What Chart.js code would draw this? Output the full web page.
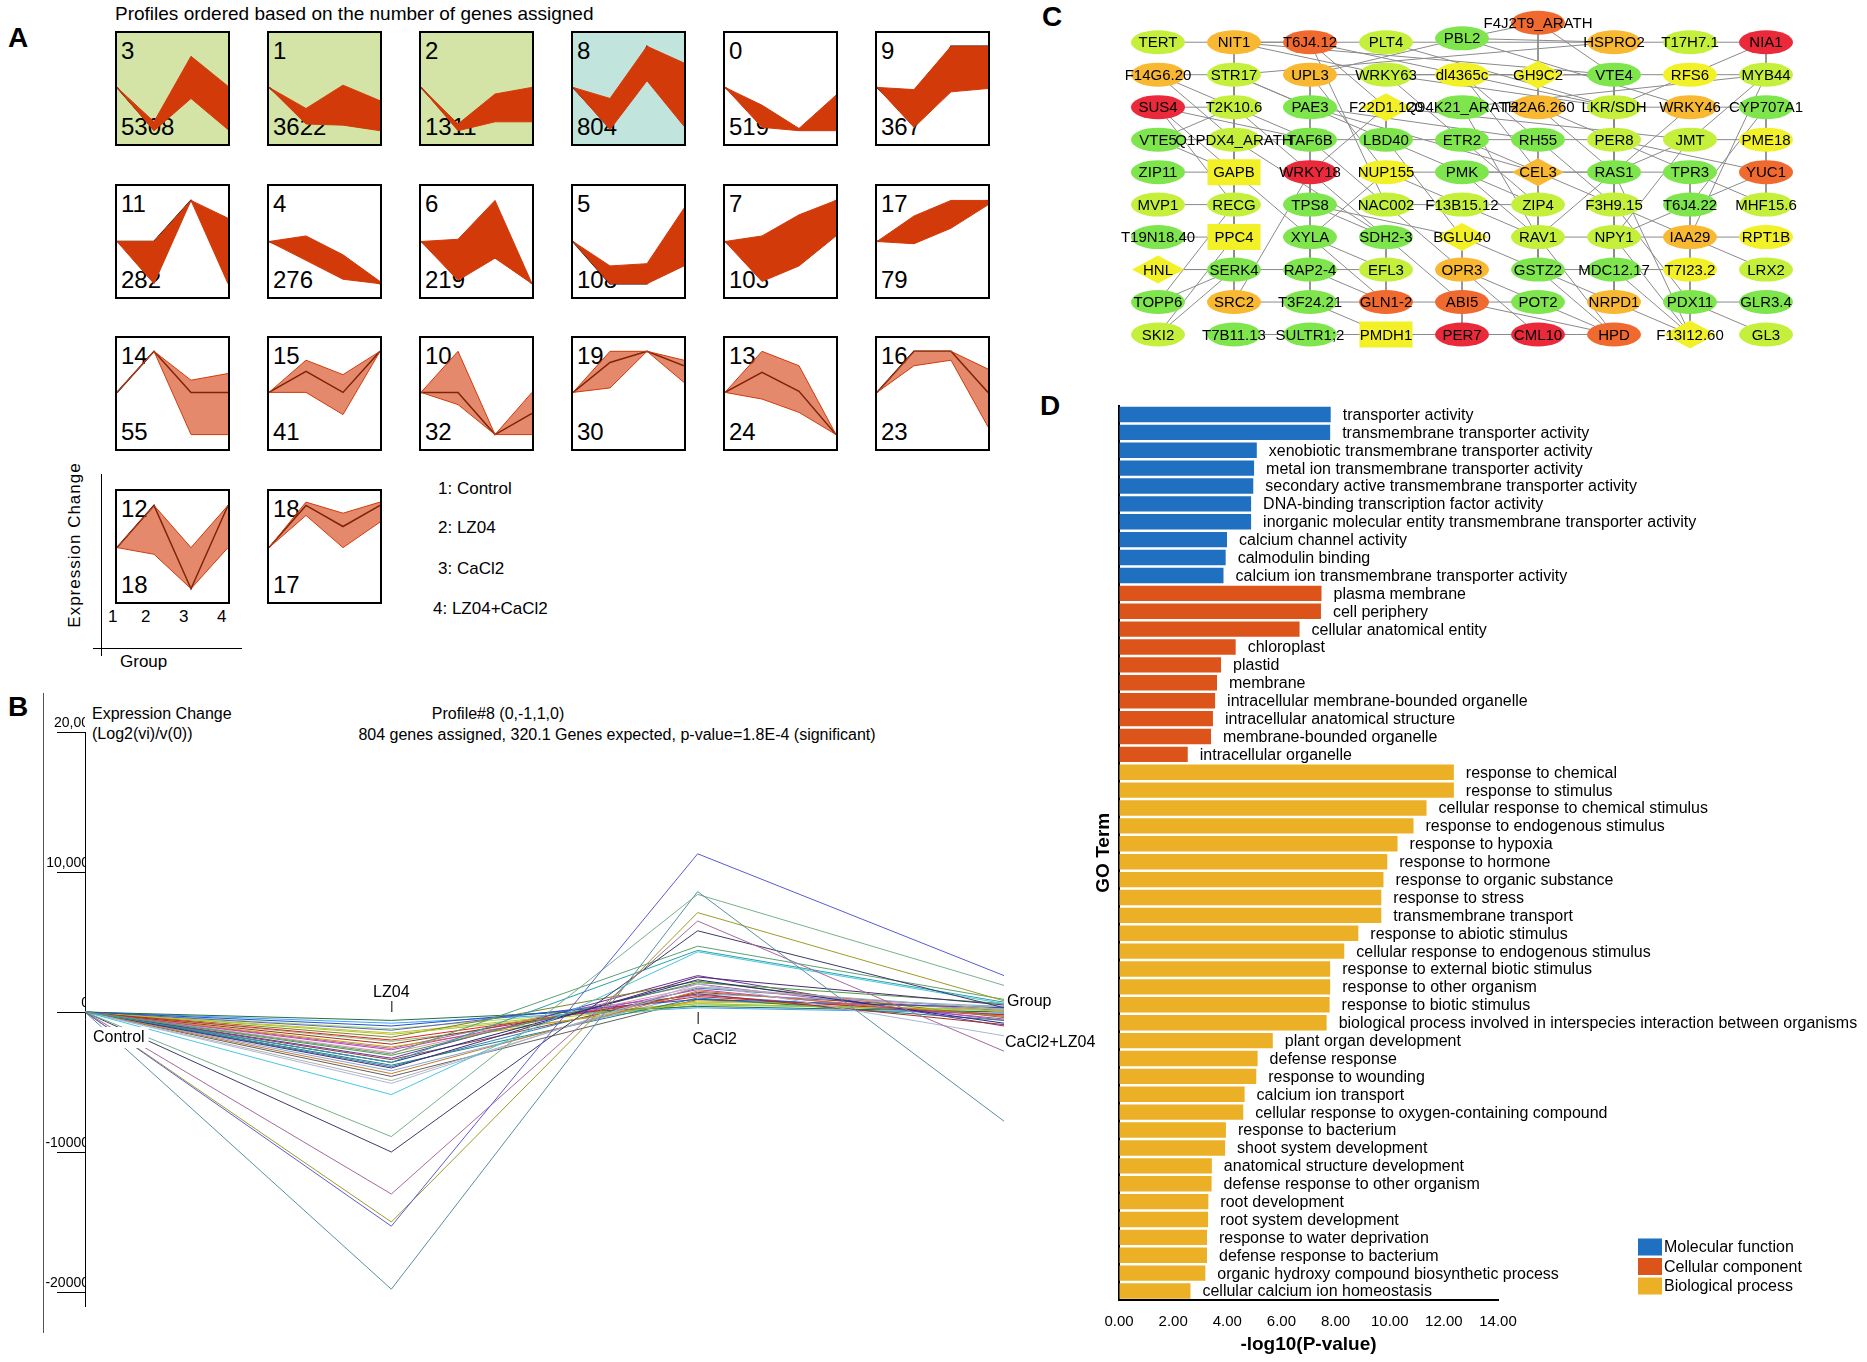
<!DOCTYPE html>
<html>
<head>
<meta charset="utf-8">
<title>Expression profiles, interaction network and GO enrichment</title>
<script src="https://cdn.jsdelivr.net/npm/chart.js@4.4.1/dist/chart.umd.min.js"></script>
<style>
  body { margin:0; width:1867px; height:1362px; position:relative; overflow:hidden; background:#fff;
         font-family:"Liberation Sans", Arial, sans-serif; color:#000; }
  .t { position:absolute; white-space:nowrap; line-height:1; }
  .letter { position:absolute; font-weight:bold; font-size:28px; line-height:1; }
  .box { position:absolute; width:115px; height:115px; border:2px solid #000; box-sizing:border-box; background:#fff; }
  .box canvas { position:absolute; left:0; top:0; }
  .num { position:absolute; left:4px; font-size:24px; line-height:1; }
  .abs { position:absolute; }
</style>
</head>
<body>

<div class="letter" style="left:8px;top:24px">A</div>
<div class="letter" style="left:8px;top:693px">B</div>
<div class="letter" style="left:1042px;top:3px">C</div>
<div class="letter" style="left:1040px;top:392px">D</div>

<div class="t" style="left:115px;top:4px;font-size:19px">Profiles ordered based on the number of genes assigned</div>

<!-- A: small axis key -->
<div class="abs" style="left:101px;top:474px;width:1px;height:182px;background:#000"></div>
<div class="abs" style="left:93px;top:648px;width:149px;height:1px;background:#000"></div>
<div class="t" style="left:74px;top:545px;font-size:17px;letter-spacing:1px;transform:translate(-50%,-50%) rotate(-90deg)">Expression Change</div>
<div class="t" style="left:108px;top:608px;font-size:17px">1</div>
<div class="t" style="left:141px;top:608px;font-size:17px">2</div>
<div class="t" style="left:179px;top:608px;font-size:17px">3</div>
<div class="t" style="left:217px;top:608px;font-size:17px">4</div>
<div class="t" style="left:120px;top:653px;font-size:17px">Group</div>
<div id="groupKey"></div>

<!-- B: frame line and titles -->
<div class="abs" style="left:43px;top:693px;width:1px;height:640px;background:#555"></div>
<div class="t" style="left:92px;top:706px;font-size:16px">Expression Change</div>
<div class="t" style="left:92px;top:726px;font-size:16px">(Log2(vi)/v(0))</div>
<div class="t" style="left:498px;top:706px;font-size:16px;transform:translateX(-50%)">Profile#8 (0,-1,1,0)</div>
<div class="t" style="left:617px;top:727px;font-size:16px;transform:translateX(-50%)">804 genes assigned, 320.1 Genes expected, p-value=1.8E-4 (significant)</div>

<canvas id="chartB" class="abs" width="1110" height="672" style="left:0;top:690px"></canvas>
<canvas id="chartC" class="abs" width="684" height="354" style="left:1120px;top:0"></canvas>
<canvas id="chartD" class="abs" width="787" height="977" style="left:1080px;top:385px"></canvas>

<script>
// ---------------- A: STEM profiles (0..100 inside a box, 100 = top) ----------------
const profileIds   = [3, 1, 2, 8, 0, 9, 11, 4, 6, 5, 7, 17, 14, 15, 10, 19, 13, 16, 12, 18];
const profileGenes = [5308, 3622, 1311, 804, 519, 367, 282, 276, 219, 108, 103, 79, 55, 41, 32, 30, 24, 23, 18, 17];
const profileMean = [
  [51, 13, 50, 32], [51, 23, 32, 13], [51, 15, 32, 32], [51, 15, 88, 50], [51, 26, 13, 26], [51, 20, 88, 88],
  [50, 50, 87, 50], [50, 37, 25, 12], [50, 30, 50, 12], [50, 12, 12, 50], [50, 30, 57, 87], [50, 62, 75, 87],
  [51, 88, 51, 51], [51, 70, 51, 88], [51, 51, 13, 32], [51, 78, 88, 75], [51, 69, 52, 13], [51, 88, 88, 51],
  [49, 87, 12, 87], [49, 87, 68, 87]
];
const profileHigh = [
  [51, 20, 79, 52], [51, 32, 53, 39], [51, 18, 45, 51], [51, 41, 88, 73], [51, 35, 14, 44], [51, 49, 88, 88],
  [50, 50, 87, 71], [50, 55, 38, 14], [50, 52, 87, 12], [50, 28, 30, 80], [50, 55, 74, 87], [50, 73, 87, 87],
  [51, 88, 62, 68], [51, 80, 67, 88], [51, 88, 13, 51], [51, 88, 88, 80], [51, 88, 75, 13], [51, 88, 88, 72],
  [49, 87, 49, 87], [49, 90, 80, 90]
];
const profileLow = [
  [51, 12, 41, 13], [51, 18, 17, 12], [51, 12, 20, 20], [51, 13, 57, 16], [51, 15, 12, 12], [51, 15, 47, 50],
  [50, 12, 87, 12], [50, 33, 16, 12], [50, 15, 35, 12], [50, 12, 12, 28], [50, 14, 28, 55], [50, 48, 62, 83],
  [51, 88, 13, 13], [51, 51, 31, 88], [51, 40, 13, 13], [51, 55, 88, 60], [51, 45, 33, 13], [51, 75, 80, 20],
  [49, 43, 12, 49], [49, 78, 49, 72]
];
const groupNames = ['1: Control', '2: LZ04', '3: CaCl2', '4: LZ04+CaCl2'];

// ---------------- B: genes of profile 8 ----------------
const bGroups = ['Control', 'LZ04', 'CaCl2', 'CaCl2+LZ04'];
const bTicks = [-20000, -10000, 0, 10000, 20000];
const bTickLabels = ['-20000', '-10000', '0', '10,000', '20,00'];
const bSeries = [
  [0, -15300, 11300, 2600], [0, -19800, 8600, -7800], [0, -8900, 8400, 1900], [0, -15000, 7100, 800],
  [0, -13000, 6500, -2800], [0, -10000, 5800, 300], [0, -3000, 4700, 900], [0, -3600, 4400, 700],
  [0, -5900, 4300, 600], [0, -5100, 2000, -1700], [0, -4900, 1800, 200], [0, -4400, 1500, -300],
  [0, -4000, 2500, 500], [0, -3600, 2300, -800], [0, -3100, 2100, 600], [0, -2700, 1600, -500],
  [0, -2300, 1300, -900], [0, -1000, 900, 300], [0, -1600, 600, 100], [0, -2000, 1100, -200],
  [0, -2900, 1800, 0], [0, -1800, 2200, -400], [0, -600, 400, 0], [0, -3300, 2600, -1000],
  [0, -4200, 1300, 400], [0, -3800, 1000, -600], [0, -2500, 800, 300], [0, -1300, 1200, -300],
  [0, -2100, 500, 200], [0, -3400, 1400, 100], [0, -800, 300, -100], [0, -1500, 700, 400],
  [0, -2600, 2000, -600], [0, -4600, 900, -200], [0, -3900, 1700, 200], [0, -1200, 600, 0]
];
const bColors = [
  '#5a5ad6', '#5a8fa0', '#78b08a', '#a09a28', '#a8699a', '#3e3a6a', '#5aa070', '#2aa0a8',
  '#48c8e0', '#a8b8d8', '#b0b0b0', '#c87a30', '#4a2a70', '#1e2a80', '#4a9a40', '#c040b0',
  '#a03020', '#2050d0', '#a8c820', '#e02020', '#e890b0', '#808020', '#207040', '#7030a0',
  '#80a8e0', '#208080', '#d0a000', '#6060c0', '#80c080', '#904040', '#40a0ff', '#c0c040',
  '#a060c0', '#606060', '#3080b0', '#a0e060'
];

// ---------------- C: interaction network ----------------
const nodeRows = [
  ['TERT', 'NIT1', 'T6J4.12', 'PLT4', 'PBL2', 'F4J2T9_ARATH', 'HSPRO2', 'T17H7.1', 'NIA1'],
  ['F14G6.20', 'STR17', 'UPL3', 'WRKY63', 'dl4365c', 'GH9C2', 'VTE4', 'RFS6', 'MYB44'],
  ['SUS4', 'T2K10.6', 'PAE3', 'F22D1.120', 'Q94K21_ARATH', 'T22A6.260', 'LKR/SDH', 'WRKY46', 'CYP707A1'],
  ['VTE5', 'Q1PDX4_ARATH', 'TAF6B', 'LBD40', 'ETR2', 'RH55', 'PER8', 'JMT', 'PME18'],
  ['ZIP11', 'GAPB', 'WRKY18', 'NUP155', 'PMK', 'CEL3', 'RAS1', 'TPR3', 'YUC1'],
  ['MVP1', 'RECG', 'TPS8', 'NAC002', 'F13B15.12', 'ZIP4', 'F3H9.15', 'T6J4.22', 'MHF15.6'],
  ['T19N18.40', 'PPC4', 'XYLA', 'SDH2-3', 'BGLU40', 'RAV1', 'NPY1', 'IAA29', 'RPT1B'],
  ['HNL', 'SERK4', 'RAP2-4', 'EFL3', 'OPR3', 'GSTZ2', 'MDC12.17', 'T7I23.2', 'LRX2'],
  ['TOPP6', 'SRC2', 'T3F24.21', 'GLN1-2', 'ABI5', 'POT2', 'NRPD1', 'PDX11', 'GLR3.4'],
  ['SKI2', 'T7B11.13', 'SULTR1;2', 'PMDH1', 'PER7', 'CML10', 'HPD', 'F13I12.60', 'GL3']
];
const nodeLevels = [
  'yg oy o yg g o oy yg r',
  'oy yg oy yg y y g y yg',
  'r yg g y g oy yg oy g',
  'g yg g g g g yg yg y',
  'g y r y g oy g g o',
  'yg yg g yg yg yg yg g yg',
  'g y g g y yg yg oy y',
  'y g g yg oy g g y yg',
  'g oy g o o g oy g g',
  'yg g g y r r o y yg'
];
const diamondNodes = ['F22D1.120', 'GH9C2', 'CEL3', 'BGLU40', 'HNL', 'F13I12.60'];
const rectNodes = ['GAPB', 'PPC4', 'PMDH1'];
const edges = [
  ['TERT','NIT1'],['NIT1','T6J4.12'],['F14G6.20','STR17'],['ZIP11','GAPB'],['HNL','SERK4'],['HNL','EFL3'],
  ['T7B11.13','SULTR1;2'],['SULTR1;2','PMDH1'],['PMDH1','PER7'],['PER7','CML10'],['CML10','HPD'],['IAA29','RPT1B'],
  ['NPY1','IAA29'],['RAV1','NPY1'],['T17H7.1','NIA1'],['HSPRO2','T17H7.1'],['MDC12.17','T7I23.2'],['GSTZ2','MDC12.17'],
  ['PDX11','GL3'],['IAA29','LRX2'],['SUS4','T2K10.6'],['SUS4','GAPB'],['SUS4','TAF6B'],['SUS4','RECG'],
  ['F14G6.20','T2K10.6'],['F14G6.20','Q1PDX4_ARATH'],['STR17','PAE3'],['STR17','RECG'],['STR17','LBD40'],
  ['T2K10.6','TAF6B'],['T2K10.6','SDH2-3'],['NIT1','GAPB'],['NIT1','VTE4'],['NIT1','HSPRO2'],['NIT1','WRKY63'],
  ['T6J4.12','F22D1.120'],['T6J4.12','NAC002'],['T6J4.12','LKR/SDH'],['UPL3','TPS8'],['UPL3','NUP155'],['UPL3','PBL2'],
  ['PAE3','RH55'],['PAE3','CEL3'],['WRKY63','ETR2'],['WRKY63','RFS6'],['dl4365c','VTE4'],['dl4365c','CEL3'],
  ['dl4365c','F3H9.15'],['F22D1.120','LBD40'],['F22D1.120','JMT'],['Q94K21_ARATH','MYB44'],['Q94K21_ARATH','RAV1'],
  ['T22A6.260','PER8'],['T22A6.260','RAS1'],['LKR/SDH','WRKY46'],['LKR/SDH','F3H9.15'],['WRKY46','CYP707A1'],
  ['WRKY46','RAV1'],['CYP707A1','T6J4.22'],['CYP707A1','MHF15.6'],['MYB44','RFS6'],['MYB44','JMT'],['MYB44','IAA29'],
  ['NIA1','MYB44'],['NIA1','RFS6'],['F4J2T9_ARATH','VTE4'],['F4J2T9_ARATH','GH9C2'],['F4J2T9_ARATH','PBL2'],
  ['GH9C2','T22A6.260'],['VTE4','RAS1'],['VTE4','NRPD1'],['RFS6','LKR/SDH'],['RH55','RAV1'],['PER8','TPR3'],
  ['PER8','YUC1'],['JMT','RAS1'],['JMT','NPY1'],['JMT','PME18'],['TPR3','MHF15.6'],['TPR3','F13I12.60'],
  ['YUC1','T6J4.22'],['RAS1','F13I12.60'],['F3H9.15','IAA29'],['F3H9.15','NRPD1'],['T6J4.22','NPY1'],['RAV1','GSTZ2'],
  ['RAV1','HPD'],['NPY1','F13I12.60'],['GSTZ2','HPD'],['GSTZ2','NRPD1'],['MDC12.17','F13I12.60'],['POT2','HPD'],
  ['NRPD1','F13I12.60'],['PDX11','F3H9.15'],['GLR3.4','PDX11'],['TAF6B','NAC002'],['TAF6B','ETR2'],['LBD40','PMK'],
  ['LBD40','BGLU40'],['ETR2','CEL3'],['ETR2','ZIP4'],['GAPB','XYLA'],['GAPB','PPC4'],['GAPB','SERK4'],['WRKY18','TPS8'],
  ['WRKY18','F22D1.120'],['WRKY18','SRC2'],['NUP155','F13B15.12'],['NUP155','XYLA'],['PMK','RAV1'],['PMK','ZIP4'],
  ['CEL3','F3H9.15'],['RECG','TOPP6'],['RECG','PPC4'],['TPS8','SDH2-3'],['TPS8','RAP2-4'],['NAC002','OPR3'],
  ['NAC002','ZIP4'],['F13B15.12','RAV1'],['ZIP4','GSTZ2'],['T19N18.40','PPC4'],['PPC4','SERK4'],['PPC4','SKI2'],
  ['XYLA','RAP2-4'],['XYLA','GLN1-2'],['SDH2-3','EFL3'],['SDH2-3','ABI5'],['BGLU40','OPR3'],['BGLU40','GSTZ2'],
  ['SERK4','SKI2'],['SERK4','SRC2'],['RAP2-4','T3F24.21'],['RAP2-4','GLN1-2'],['EFL3','GLN1-2'],['OPR3','ABI5'],
  ['OPR3','POT2'],['OPR3','CML10'],['SRC2','GLN1-2'],['T3F24.21','PMDH1'],['GLN1-2','ABI5'],['ABI5','PER7'],
  ['ABI5','HPD'],['ABI5','POT2'],['TOPP6','SERK4'],['MVP1','RECG'],['VTE5','GAPB'],['VTE5','T2K10.6'],['VTE5','TAF6B'],
  ['PBL2','WRKY46'],['PBL2','HSPRO2'],['STR17','HSPRO2'],['UPL3','VTE4'],['PLT4','LKR/SDH'],['ETR2','PER8'],
  ['NUP155','RAS1'],['PMK','TPR3'],['WRKY63','LKR/SDH'],['Q1PDX4_ARATH','SDH2-3'],['TPS8','BGLU40'],['XYLA','EFL3']
];

// ---------------- D: GO enrichment ----------------
const mfTerms = ['transporter activity', 'transmembrane transporter activity', 'xenobiotic transmembrane transporter activity',
  'metal ion transmembrane transporter activity', 'secondary active transmembrane transporter activity',
  'DNA-binding transcription factor activity', 'inorganic molecular entity transmembrane transporter activity',
  'calcium channel activity', 'calmodulin binding', 'calcium ion transmembrane transporter activity'];
const mfValues = [7.82, 7.80, 5.09, 4.99, 4.96, 4.88, 4.88, 3.99, 3.94, 3.86];
const ccTerms = ['plasma membrane', 'cell periphery', 'cellular anatomical entity', 'chloroplast', 'plastid', 'membrane',
  'intracellular membrane-bounded organelle', 'intracellular anatomical structure', 'membrane-bounded organelle',
  'intracellular organelle'];
const ccValues = [7.48, 7.46, 6.67, 4.31, 3.77, 3.62, 3.55, 3.47, 3.40, 2.54];
const bpTerms = ['response to chemical', 'response to stimulus', 'cellular response to chemical stimulus',
  'response to endogenous stimulus', 'response to hypoxia', 'response to hormone', 'response to organic substance',
  'response to stress', 'transmembrane transport', 'response to abiotic stimulus', 'cellular response to endogenous stimulus',
  'response to external biotic stimulus', 'response to other organism', 'response to biotic stimulus',
  'biological process involved in interspecies interaction between organisms', 'plant organ development',
  'defense response', 'response to wounding', 'calcium ion transport', 'cellular response to oxygen-containing compound',
  'response to bacterium', 'shoot system development', 'anatomical structure development',
  'defense response to other organism', 'root development', 'root system development', 'response to water deprivation',
  'defense response to bacterium', 'organic hydroxy compound biosynthetic process', 'cellular calcium ion homeostasis'];
const bpValues = [12.37, 12.37, 11.36, 10.88, 10.29, 9.91, 9.77, 9.69, 9.69, 8.84, 8.32, 7.80, 7.80, 7.78, 7.67, 5.68,
  5.12, 5.07, 4.64, 4.59, 3.95, 3.92, 3.43, 3.42, 3.30, 3.29, 3.25, 3.25, 3.19, 2.64];
const goGroups = ['Molecular function', 'Cellular component', 'Biological process'];

// ======================================================================
const FONT = '"Liberation Sans", Arial, sans-serif';
Chart.defaults.font.family = FONT;
Chart.defaults.color = '#000';
Chart.defaults.animation = false;
Chart.defaults.events = [];
Chart.defaults.plugins.legend.display = false;
Chart.defaults.plugins.tooltip.enabled = false;

// ---- A
const RED = 'rgb(210,58,10)';
profileIds.forEach((id, i) => {
  const box = document.createElement('div');
  box.className = 'box';
  box.style.left = (115 + (i % 6) * 152) + 'px';
  box.style.top = (31 + Math.floor(i / 6) * 152.5) + 'px';
  if (i < 3) box.style.background = '#d3e4a6';
  if (i === 3) box.style.background = '#c1e4dc';

  const top = document.createElement('div');
  top.className = 'num'; top.style.top = '6px'; top.textContent = id;
  const bottom = document.createElement('div');
  bottom.className = 'num'; bottom.style.bottom = '5px'; bottom.textContent = profileGenes[i];
  box.appendChild(top); box.appendChild(bottom);

  const cv = document.createElement('canvas');
  cv.width = 111; cv.height = 111;
  box.appendChild(cv);
  document.body.appendChild(box);

  // few genes: individual lines show through, so the band is lighter
  const sparse = profileGenes[i] < 60;
  new Chart(cv, {
    type: 'line',
    data: {
      labels: [1, 2, 3, 4],
      datasets: [
        { data: profileLow[i], borderColor: RED, borderWidth: 1, pointRadius: 0, fill: false },
        { data: profileHigh[i], borderColor: RED, borderWidth: 1, pointRadius: 0, fill: '-1',
          backgroundColor: sparse ? 'rgba(210,58,10,0.6)' : RED },
        { data: profileMean[i], borderColor: '#000', borderWidth: 1.5, pointRadius: 0, fill: false }
      ]
    },
    options: {
      responsive: false,
      scales: {
        x: { display: false, offset: false },
        y: { display: false, min: 0, max: 100 }
      }
    }
  });
});

const keyTops = [480, 519, 560, 600];
groupNames.forEach((g, i) => {
  const d = document.createElement('div');
  d.className = 't';
  d.style.left = (i === 3 ? 433 : 438) + 'px';
  d.style.top = keyTops[i] + 'px';
  d.style.fontSize = '17px';
  d.textContent = g;
  document.getElementById('groupKey').appendChild(d);
});

// ---- B
const bGroupLabels = {
  id: 'bGroupLabels',
  afterDraw(chart) {
    const { ctx, scales: { x, y } } = chart;
    const y0 = y.getPixelForValue(0);
    const xs = bGroups.map((g, i) => x.getPixelForValue(i));
    ctx.save();
    ctx.font = '16px ' + FONT;
    ctx.textBaseline = 'middle';
    ctx.strokeStyle = '#000';
    ctx.lineWidth = 1;
    const w = ctx.measureText(bGroups[0]).width;
    ctx.fillStyle = '#fff';
    ctx.fillRect(xs[0] + 6, y0 + 15, w + 6, 21);
    ctx.fillStyle = '#000';
    ctx.textAlign = 'left';
    ctx.fillText(bGroups[0], xs[0] + 8, y0 + 26);
    ctx.textAlign = 'center';
    ctx.fillText(bGroups[1], xs[1], y0 - 19);
    ctx.beginPath(); ctx.moveTo(xs[1] + 0.5, y0 - 11); ctx.lineTo(xs[1] + 0.5, y0); ctx.stroke();
    ctx.fillText(bGroups[2], xs[2] + 17, y0 + 28);
    ctx.beginPath(); ctx.moveTo(xs[2] + 0.5, y0); ctx.lineTo(xs[2] + 0.5, y0 + 12); ctx.stroke();
    ctx.textAlign = 'left';
    ctx.fillText('Group', xs[3] + 3, y0 - 10);
    ctx.fillText(bGroups[3], xs[3] + 1, y0 + 31);
    ctx.restore();
  }
};

new Chart(document.getElementById('chartB'), {
  type: 'line',
  data: {
    labels: bGroups,
    datasets: bSeries.map((s, i) => ({
      data: s, borderColor: bColors[i], borderWidth: 1, pointRadius: 0, tension: 0, fill: false
    }))
  },
  options: {
    responsive: false,
    layout: { padding: { top: 42, right: 106, bottom: 56 } },
    scales: {
      x: { display: false, offset: false },
      y: {
        min: -21000, max: 20000,
        afterBuildTicks: s => { s.ticks = bTicks.map(v => ({ value: v })); },
        afterFit: s => { s.width = 85; },
        ticks: {
          callback: (v, i) => bTickLabels[i],
          font: { size: 14 }, color: '#000', padding: -32, labelOffset: -9
        },
        grid: { drawOnChartArea: false, drawTicks: true, tickLength: 28, color: '#000', lineWidth: 1 },
        border: { color: '#000', width: 1 }
      }
    }
  },
  plugins: [bGroupLabels]
});

// ---- C
const levelColor = { g: '#7ee64c', yg: '#c4f03c', y: '#f2f026', oy: '#f8b832', o: '#f06a30', r: '#ea2a3a' };
const nodeLift = { 'F4J2T9_ARATH': 0.6, 'PBL2': 0.12 };   // nodes drawn a little above their row
const nodes = [];
nodeRows.forEach((row, r) => {
  const lv = nodeLevels[r].split(' ');
  row.forEach((name, c) => nodes.push({ name, x: c, y: r - (nodeLift[name] || 0), level: lv[c] }));
});
const nodeByName = {};
nodes.forEach(n => { nodeByName[n.name] = n; });

const drawNodes = {
  id: 'drawNodes',
  afterDatasetsDraw(chart) {
    const ctx = chart.ctx;
    const meta = chart.getDatasetMeta(chart.data.datasets.length - 1);
    ctx.save();
    // shapes first, then every label on top
    meta.data.forEach((pt, i) => {
      const n = nodes[i];
      ctx.fillStyle = levelColor[n.level];
      ctx.beginPath();
      if (diamondNodes.includes(n.name)) {
        ctx.moveTo(pt.x - 26, pt.y); ctx.lineTo(pt.x, pt.y - 14);
        ctx.lineTo(pt.x + 26, pt.y); ctx.lineTo(pt.x, pt.y + 14); ctx.closePath();
      } else if (rectNodes.includes(n.name)) {
        ctx.rect(pt.x - 26.5, pt.y - 13, 53, 26);
      } else {
        ctx.ellipse(pt.x, pt.y, 27, 12, 0, 0, Math.PI * 2);
      }
      ctx.fill();
    });
    ctx.font = '15px ' + FONT;
    ctx.textAlign = 'center';
    ctx.textBaseline = 'middle';
    ctx.fillStyle = '#000';
    meta.data.forEach((pt, i) => ctx.fillText(nodes[i].name, pt.x, pt.y + 1));
    ctx.restore();
  }
};

const edgeSets = edges
  .filter(e => nodeByName[e[0]] && nodeByName[e[1]])
  .map(e => ({
    data: [{ x: nodeByName[e[0]].x, y: nodeByName[e[0]].y }, { x: nodeByName[e[1]].x, y: nodeByName[e[1]].y }],
    showLine: true, borderColor: '#8a8a8a', borderWidth: 1, pointRadius: 0
  }));

new Chart(document.getElementById('chartC'), {
  type: 'scatter',
  data: {
    datasets: [...edgeSets, { data: nodes.map(n => ({ x: n.x, y: n.y })), pointRadius: 0 }]
  },
  options: {
    responsive: false,
    scales: {
      x: { display: false, min: -0.5, max: 8.5 },
      y: { display: false, min: -1.3, max: 9.6, reverse: true }
    }
  },
  plugins: [drawNodes]
});

// ---- D
const groupColors = ['#1f70c1', '#dc5419', '#ebb026'];
const goTerms = [...mfTerms, ...ccTerms, ...bpTerms];
const goValues = [...mfValues, ...ccValues, ...bpValues];
const goColors = [
  ...mfTerms.map(() => groupColors[0]),
  ...ccTerms.map(() => groupColors[1]),
  ...bpTerms.map(() => groupColors[2])
];

const goLabels = {
  id: 'goLabels',
  afterDatasetsDraw(chart) {
    const ctx = chart.ctx;
    const meta = chart.getDatasetMeta(0);
    ctx.save();
    ctx.font = '16px ' + FONT;
    ctx.fillStyle = '#000';
    ctx.textAlign = 'left';
    ctx.textBaseline = 'middle';
    meta.data.forEach((bar, i) => ctx.fillText(goTerms[i], bar.x + 12, bar.y + 1));
    // legend, bottom right
    const a = chart.chartArea;
    goGroups.forEach((g, i) => {
      const cy = a.bottom - 53 + i * 19.5;
      ctx.fillStyle = groupColors[i];
      ctx.fillRect(a.right + 140, cy - 8.5, 24, 17);
      ctx.fillStyle = '#000';
      ctx.fillText(g, a.right + 166, cy + 1);
    });
    ctx.restore();
  }
};

new Chart(document.getElementById('chartD'), {
  type: 'bar',
  data: {
    labels: goTerms,
    datasets: [{ data: goValues, backgroundColor: goColors, barPercentage: 0.86, categoryPercentage: 1 }]
  },
  options: {
    responsive: false,
    indexAxis: 'y',
    layout: { padding: { top: 20.5, right: 369 } },
    scales: {
      x: {
        min: 0, max: 14,
        afterFit: s => { s.height = 62; },
        ticks: { stepSize: 2, callback: v => v.toFixed(2), font: { size: 15 }, color: '#000', padding: 13, maxRotation: 0 },
        grid: { drawOnChartArea: false, drawTicks: false },
        border: { color: '#000', width: 2 },
        title: { display: true, text: '-log10(P-value)', font: { size: 19, weight: 'bold' }, color: '#000',
                 padding: { top: 0, bottom: 6 } }
      },
      y: {
        afterFit: s => { s.width = 39; },
        ticks: { display: false },
        grid: { drawOnChartArea: false, drawTicks: false },
        border: { color: '#000', width: 2 },
        title: { display: true, text: 'GO Term', font: { size: 19, weight: 'bold' }, color: '#000',
                 padding: { top: 12, bottom: 0 } }
      }
    }
  },
  plugins: [goLabels]
});
</script>
</body>
</html>
